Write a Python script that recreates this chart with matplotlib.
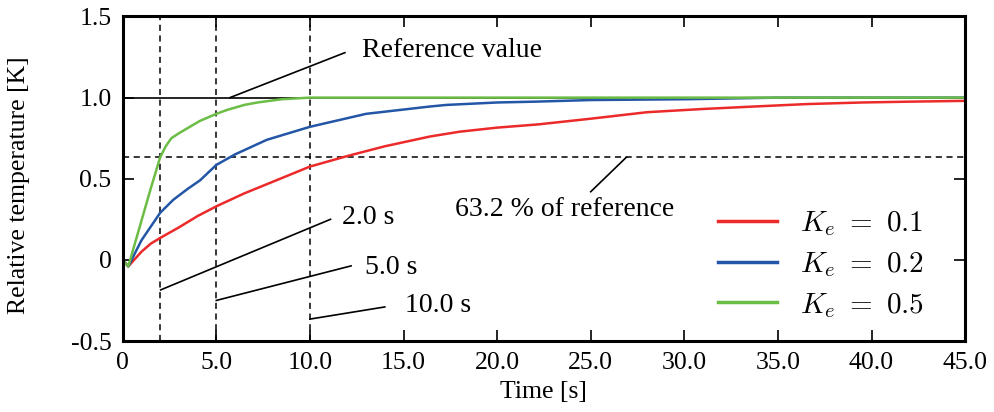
import matplotlib
matplotlib.use('Agg')
import matplotlib.pyplot as plt

plt.rcParams['font.family'] = ['Liberation Serif', 'DejaVu Serif']
plt.rcParams['mathtext.fontset'] = 'cm'

# Step responses (time in s, relative temperature in K)
t_red = [0, 0.3, 1.0, 1.5, 2.0, 3.0, 4.0, 5.0, 6.5, 8.2, 10.0, 12.0, 14.0,
         16.4, 18.0, 20.0, 22.2, 25.0, 28.0, 31.0, 33.7, 36.5, 39.5, 42.0, 45.0]
v_red = [0, -0.04, 0.05, 0.10, 0.135, 0.20, 0.27, 0.33, 0.41, 0.49, 0.575, 0.64, 0.70,
         0.76, 0.79, 0.815, 0.835, 0.87, 0.91, 0.93, 0.945, 0.96, 0.97, 0.975, 0.98]

t_blue = [0, 0.3, 1.0, 2.0, 2.7, 3.5, 4.13, 5.0, 6.0, 7.7, 10.0, 13.0, 16.4,
          17.3, 20.0, 22.0, 25.0, 30.0, 35.0, 40.0, 45.0]
v_blue = [0, -0.04, 0.12, 0.29, 0.37, 0.44, 0.49, 0.585, 0.65, 0.74, 0.82, 0.90, 0.945,
          0.955, 0.97, 0.975, 0.985, 0.99, 1.0, 1.0, 1.0]

t_green = [0, 0.3, 1.0, 1.5, 2.0, 2.3, 2.6, 3.0, 4.1, 5.0, 5.6, 6.5, 7.2, 8.5,
           10.0, 15.0, 20.0, 25.0, 30.0, 35.0, 40.0, 45.0]
v_green = [0, -0.04, 0.24, 0.44, 0.632, 0.70, 0.75, 0.78, 0.855, 0.90, 0.925, 0.955, 0.97,
           0.99, 1.0, 1.0, 1.0, 1.0, 1.0, 1.0, 1.0, 1.0]

labels = [r'$K_e\ =\ 0.1$', r'$K_e\ =\ 0.2$', r'$K_e\ =\ 0.5$']
colors = ['#ec2a2a', '#2356a6', '#6cbd45']

x_ticks = [0, 5, 10, 15, 20, 25, 30, 35, 40, 45]
x_ticklabels = ['0', '5.0', '10.0', '15.0', '20.0', '25.0', '30.0', '35.0', '40.0', '45.0']
y_ticks = [-0.5, 0, 0.5, 1.0, 1.5]
y_ticklabels = ['-0.5', '0', '0.5', '1.0', '1.5']

reference = 1.0
tau_level = 0.632
marks = [2.0, 5.0, 10.0]

fig = plt.figure(figsize=(9.95, 4.12), dpi=100)
ax = fig.add_axes([0.1233, 0.1723, 0.8467, 0.7877])

# guide lines
ax.axhline(reference, color='black', lw=1.2, zorder=1)
ax.axhline(tau_level, color='black', lw=1.1, ls=(0, (4, 3)), zorder=1)
for m in marks:
    ax.axvline(m, color='black', lw=1.1, ls=(0, (4, 3)), zorder=1)

for t, v, c, lab in zip([t_red, t_blue, t_green], [v_red, v_blue, v_green], colors, labels):
    ax.plot(t, v, color=c, lw=1.8, label=lab, zorder=2)

# annotations
fs = 20
ax.plot([5.73, 11.87], [1.0, 1.277], color='black', lw=1.2)
ax.text(12.8, 1.29, 'Reference value', fontsize=fs, va='center')
ax.plot([26.9, 25.0], [0.632, 0.42], color='black', lw=1.2)
ax.text(23.6, 0.31, '63.2 % of reference', fontsize=fs, va='center', ha='center')
ax.plot([2.03, 11.1], [-0.185, 0.25], color='black', lw=1.2)
ax.text(11.7, 0.26, '2.0 s', fontsize=fs, va='center')
ax.plot([5.0, 12.2], [-0.25, -0.037], color='black', lw=1.2)
ax.text(12.95, -0.05, '5.0 s', fontsize=fs, va='center')
ax.plot([10.0, 14.0], [-0.365, -0.29], color='black', lw=1.2)
ax.text(15.1, -0.28, '10.0 s', fontsize=fs, va='center')

ax.set_xlim(0, 45)
ax.set_ylim(-0.5, 1.5)
ax.set_xticks(x_ticks)
ax.set_xticklabels(x_ticklabels)
ax.set_yticks(y_ticks)
ax.set_yticklabels(y_ticklabels)
ax.tick_params(direction='in', length=8, width=1.2, labelsize=18.5,
               top=True, right=True, pad=8)
for s in ax.spines.values():
    s.set_linewidth(2.2)

ax.set_xlabel('Time [s]', fontsize=18.5, labelpad=5)
ax.set_ylabel('Relative temperature [K]', fontsize=18.5)
ax.yaxis.set_label_coords(-0.11, 0.48)

leg = ax.legend(loc='lower right', frameon=False, fontsize=21, handlelength=2.0,
                handletextpad=0.8, labelspacing=0.4, borderaxespad=0,
                bbox_to_anchor=(0.965, 0.03))
for h in leg.get_lines():
    h.set_linewidth(2.5)

fig.savefig('out.png', dpi=100)
